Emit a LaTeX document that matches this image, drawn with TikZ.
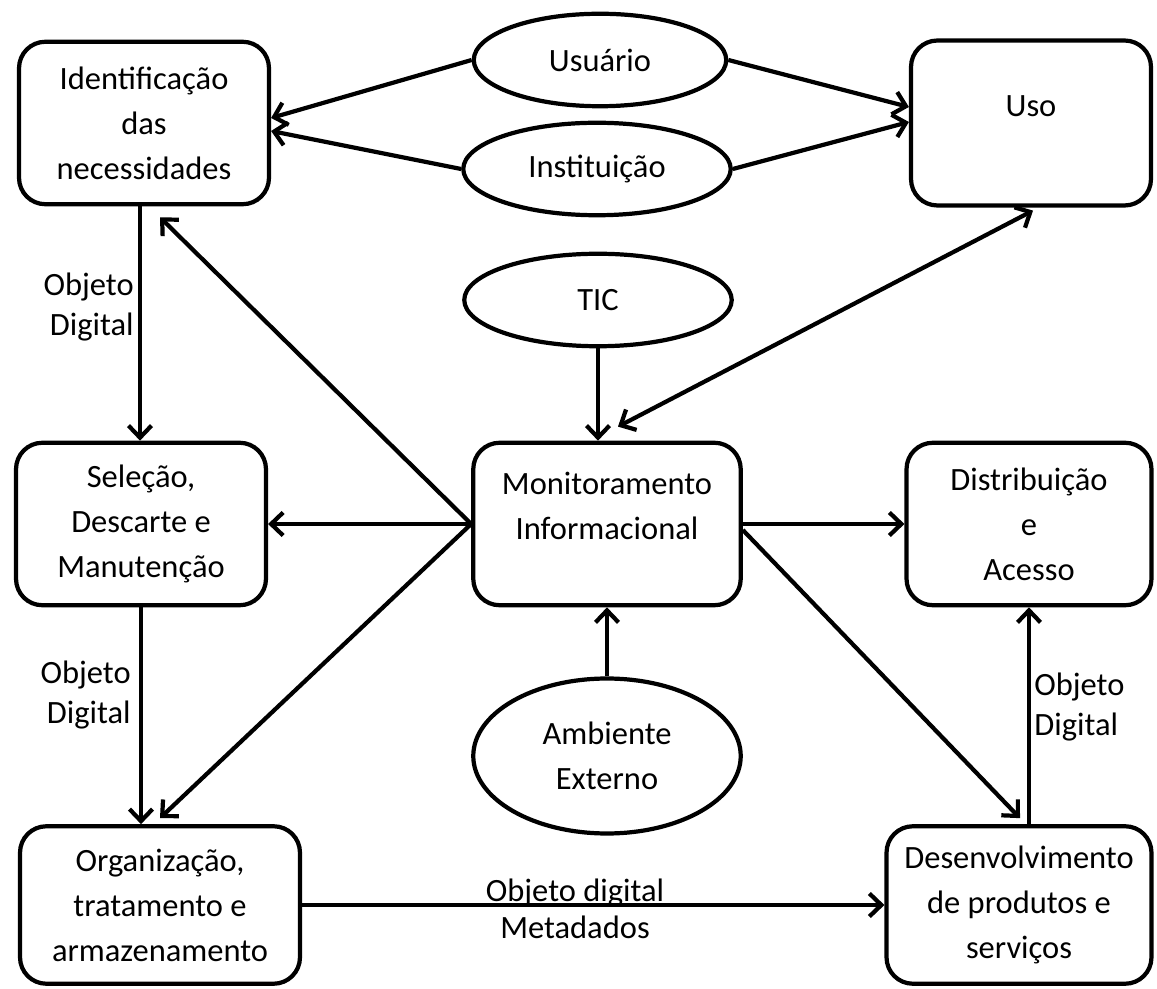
\documentclass[tikz,border=0pt]{standalone}
\usepackage{fontspec}
\setmainfont{Carlito}
\usetikzlibrary{arrows.meta, calc, shapes.geometric}

\begin{document}
\begin{tikzpicture}[x=0.02cm, y=-0.02cm,
  >={Straight Barb[length=2.4mm, width=4.6mm]},
  every node/.style={font=\fontsize{18.5}{25.6}\selectfont, align=center, inner sep=0pt},
  stage/.style={draw, line width=2.4pt, rounded corners=15pt, minimum height=3.25cm},
  actor/.style={draw, ellipse, line width=2.4pt, minimum width=5.35cm, minimum height=1.85cm},
  flow/.style={->, line width=2.4pt},
  lbl/.style={font=\fontsize{18.5}{23}\selectfont}]

% Canvas
\useasboundingbox (0,0) rectangle (1157,989);

% --- Stages (rounded boxes) ---
\node[stage, minimum width=5.0cm] (ident) at (144,123)
  {Identificação\\das\\necessidades};
\node[stage, minimum width=4.8cm, minimum height=3.3cm] (uso) at (1031,123)
  {Uso\\[-0.48cm]\strut};
\node[stage, minimum width=5.0cm] (sel) at (141,524)
  {Seleção,\\Descarte e\\Manutenção};
\node[stage, minimum width=5.35cm] (mon) at (607,524)
  {Monitoramento\\Informacional\\[-0.44cm]\strut};
\node[stage, minimum width=4.9cm] (dist) at (1029,524)
  {Distribuição\\e\\Acesso};
\node[stage, minimum width=5.6cm, minimum height=3.15cm] (org) at (160,905)
  {Organização,\\tratamento e\\armazenamento};
\node[stage, minimum width=5.3cm, minimum height=3.15cm] (desenv) at (1019,905)
  {Desenvolvimento\\de produtos e\\serviços};

% --- Actors (ellipses) ---
\node[actor, minimum width=5.05cm] (usuario) at (600,60) {Usuário};
\node[actor] (inst) at (597,169) {Instituição};
\node[actor] (tic) at (598,300) {TIC};
\node[actor, minimum height=3.1cm] (amb) at (607,756) {Ambiente\\Externo};

% --- Top: actors feed needs and use ---
\draw[flow] (usuario.west) -- ($(ident.east)+(0,-5)$);
\draw[flow] (inst.west) -- ($(ident.east)+(0,8)$);
\draw[flow] (usuario.east) -- ($(uso.west)+(0,-16)$);
\draw[flow] (inst.east) -- ($(uso.west)+(0,-1)$);

% --- Left column ---
\draw[flow] ($(ident.south)+(-4,0)$) -- ($(sel.north)+(-1,0)$);
\draw[flow] (sel.south) -- (sel.south |- org.north);
\node[lbl, anchor=east, align=right] (objA) at (134,307) {Objeto\\Digital};
\node[lbl, anchor=east, align=right] (objB) at (131,695) {Objeto\\Digital};

% --- Monitoring hub ---
\draw[flow] (mon.west) -- ($(ident.south)+(16,11)$);
\draw[flow] (mon.west) -- (sel.east);
\draw[flow] (mon.west) -- ($(org.north)+(0,-6)$);
\draw[flow] (tic.south) -- (tic.south |- mon.north);
\draw[flow, <->] ($(mon.north)+(11,-14)$) -- ($(uso.south)+(2,3)$);
\draw[flow] (mon.east) -- (dist.west);
\draw[flow] ($(mon.east)+(0,6)$) -- ($(desenv.north)+(1,-6)$);
\draw[flow] (amb.north) -- (mon.south);

% --- Right column and bottom ---
\draw[flow] (dist.south |- desenv.north) -- (dist.south);
\node[lbl, anchor=west, align=left] (objC) at (1034,707) {Objeto\\Digital};
\draw[flow] (org.east) -- (desenv.west);
\node[lbl, font=\fontsize{18.5}{21}\selectfont] (objD) at (575,909) {Objeto digital\\Metadados};

\end{tikzpicture}
\end{document}
